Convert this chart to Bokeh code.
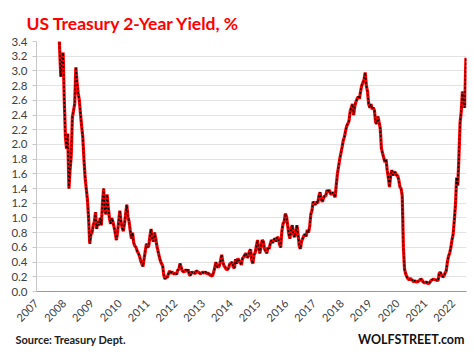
from bokeh.plotting import figure
from bokeh.models import FixedTicker, Range1d, NumeralTickFormatter
from bokeh.core.properties import value
from bokeh.embed import file_html
from bokeh.resources import INLINE
import math

# Semi-monthly readings of the US Treasury 2-year yield (%), 24 per year (1st, 16th of each month)
yield_2007 = [4.75, 4.85, 4.90, 4.75, 4.55, 4.60, 4.65, 4.70, 4.70, 4.85, 4.95, 4.95,
              4.90, 4.60, 4.35, 4.20, 3.95, 4.05, 3.95, 3.80, 3.30, 2.92, 3.15, 3.25]
yield_2008 = [2.60, 2.10, 1.94, 2.15, 1.40, 1.65, 1.85, 2.37, 2.46, 2.55, 3.05, 2.85,
              2.70, 2.60, 2.42, 2.25, 2.10, 1.80, 1.55, 1.40, 1.25, 1.00, 0.65, 0.78]
yield_2009 = [0.80, 0.90, 0.95, 1.08, 0.85, 0.95, 0.90, 1.00, 0.90, 1.20, 1.40, 1.10,
              1.05, 1.32, 1.15, 1.00, 0.92, 1.00, 0.95, 0.88, 0.80, 0.70, 0.80, 0.95]
yield_2010 = [1.10, 0.95, 0.87, 0.82, 0.92, 1.05, 1.18, 1.02, 0.95, 0.83, 0.72, 0.80,
              0.66, 0.62, 0.60, 0.55, 0.52, 0.48, 0.42, 0.38, 0.34, 0.45, 0.55, 0.65]
yield_2011 = [0.60, 0.62, 0.75, 0.85, 0.72, 0.68, 0.80, 0.72, 0.62, 0.55, 0.48, 0.42,
              0.38, 0.35, 0.22, 0.17, 0.20, 0.19, 0.24, 0.28, 0.24, 0.27, 0.25, 0.24]
yield_2012 = [0.25, 0.23, 0.29, 0.30, 0.38, 0.33, 0.28, 0.27, 0.27, 0.30, 0.27, 0.30,
              0.23, 0.22, 0.27, 0.25, 0.26, 0.24, 0.28, 0.27, 0.26, 0.25, 0.24, 0.26]
yield_2013 = [0.26, 0.25, 0.27, 0.24, 0.25, 0.24, 0.22, 0.22, 0.21, 0.26, 0.32, 0.40,
              0.34, 0.33, 0.35, 0.42, 0.50, 0.40, 0.35, 0.33, 0.30, 0.30, 0.32, 0.38]
yield_2014 = [0.38, 0.40, 0.33, 0.32, 0.44, 0.38, 0.45, 0.42, 0.40, 0.36, 0.45, 0.47,
              0.50, 0.52, 0.46, 0.48, 0.55, 0.57, 0.42, 0.38, 0.50, 0.53, 0.62, 0.70]
yield_2015 = [0.58, 0.52, 0.62, 0.70, 0.68, 0.58, 0.55, 0.52, 0.60, 0.58, 0.65, 0.70,
              0.66, 0.70, 0.72, 0.68, 0.74, 0.72, 0.64, 0.60, 0.82, 0.92, 0.95, 1.06]
yield_2016 = [1.02, 0.90, 0.78, 0.72, 0.86, 0.90, 0.78, 0.74, 0.80, 0.90, 0.78, 0.62,
              0.58, 0.68, 0.72, 0.76, 0.78, 0.75, 0.84, 0.80, 0.88, 1.05, 1.10, 1.22]
yield_2017 = [1.20, 1.18, 1.22, 1.20, 1.30, 1.35, 1.25, 1.22, 1.27, 1.30, 1.30, 1.38,
              1.35, 1.38, 1.33, 1.32, 1.35, 1.32, 1.28, 1.45, 1.60, 1.70, 1.80, 1.88]
yield_2018 = [1.96, 2.05, 2.10, 2.18, 2.25, 2.28, 2.32, 2.45, 2.50, 2.55, 2.40, 2.52,
              2.58, 2.62, 2.65, 2.62, 2.72, 2.80, 2.84, 2.88, 2.98, 2.80, 2.72, 2.55]
yield_2019 = [2.50, 2.55, 2.48, 2.50, 2.46, 2.30, 2.28, 2.38, 2.30, 2.22, 1.95, 1.88,
              1.82, 1.76, 1.80, 1.65, 1.55, 1.42, 1.58, 1.65, 1.58, 1.62, 1.62, 1.58]
yield_2020 = [1.58, 1.52, 1.42, 1.40, 1.30, 0.60, 0.30, 0.24, 0.20, 0.17, 0.16, 0.18,
              0.16, 0.15, 0.13, 0.15, 0.13, 0.13, 0.14, 0.15, 0.17, 0.16, 0.13, 0.12]
yield_2021 = [0.12, 0.13, 0.11, 0.11, 0.13, 0.15, 0.16, 0.17, 0.16, 0.16, 0.15, 0.15,
              0.25, 0.26, 0.22, 0.20, 0.21, 0.25, 0.28, 0.40, 0.48, 0.52, 0.60, 0.70]
yield_2022 = [0.78, 0.97, 1.18, 1.55, 1.44, 1.85, 2.30, 2.45, 2.72, 2.58, 2.50, 3.18]

year_series = [
    (2007, yield_2007), (2008, yield_2008), (2009, yield_2009), (2010, yield_2010),
    (2011, yield_2011), (2012, yield_2012), (2013, yield_2013), (2014, yield_2014),
    (2015, yield_2015), (2016, yield_2016), (2017, yield_2017), (2018, yield_2018),
    (2019, yield_2019), (2020, yield_2020), (2021, yield_2021), (2022, yield_2022),
]

x_tick_years = [2007, 2008, 2009, 2010, 2011, 2012, 2013, 2014,
                2015, 2016, 2017, 2018, 2019, 2020, 2021, 2022]
y_ticks = [0.0, 0.2, 0.4, 0.6, 0.8, 1.0, 1.2, 1.4, 1.6, 1.8,
           2.0, 2.2, 2.4, 2.6, 2.8, 3.0, 3.2, 3.4]

title_text = "US Treasury 2-Year Yield, %"
source_text = "Source: Treasury Dept."
brand_text = "WOLFSTREET.com"

dates = []
yields = []
for yr, vals in year_series:
    for k, val in enumerate(vals):
        dates.append(yr + k / 24.0)
        yields.append(val)

p = figure(width=474, height=330, output_backend="svg", toolbar_location=None,
           x_range=Range1d(2007.0, 2022.48), y_range=Range1d(0, 3.4),
           min_border_left=36, min_border_right=8, min_border_top=41, min_border_bottom=39)
p.outline_line_color = None
p.background_fill_color = "white"
p.border_fill_color = "white"

p.title.text = title_text
p.title.text_color = "#ff0000"
p.title.text_font = "Lato"
p.title.text_font_style = "bold"
p.title.text_font_size = "17.5px"
p.title.align = "left"
p.title.offset = -10
p.title.standoff = 16

p.line(dates, yields, line_color="#ff0000", line_width=3.2)
p.line(dates, yields, line_color="#000000", line_width=1.5, line_dash="2 2")

p.xgrid.grid_line_color = None
p.ygrid.grid_line_color = "#e3e3e3"
p.ygrid.grid_line_width = 1

p.xaxis.ticker = FixedTicker(ticks=x_tick_years)
p.xaxis.major_label_overrides = {y: str(y) for y in x_tick_years}
p.xaxis.major_label_orientation = math.pi / 4
p.xaxis.major_tick_line_color = None
p.xaxis.minor_tick_line_color = None
p.xaxis.axis_line_color = "#9a9a9a"
p.xaxis.axis_line_width = 1.2
p.xaxis.major_label_text_font = "Lato"
p.xaxis.major_label_text_font_size = "11px"
p.xaxis.major_label_text_color = "#404040"
p.xaxis.major_label_standoff = 4

p.yaxis.ticker = FixedTicker(ticks=y_ticks)
p.yaxis.formatter = NumeralTickFormatter(format="0.0")
p.yaxis.minor_tick_line_color = None
p.yaxis.axis_line_color = "#c8c8c8"
p.yaxis.major_tick_line_color = "#c8c8c8"
p.yaxis.major_tick_out = 4
p.yaxis.major_tick_in = 0
p.yaxis.major_label_text_font = "Lato"
p.yaxis.major_label_text_font_size = "11.5px"
p.yaxis.major_label_text_color = "#404040"
p.yaxis.major_label_standoff = 5

# footer strip holding the source note and the brand (separate root, so no frame alignment)
f = figure(width=474, height=24, output_backend="svg", toolbar_location=None,
           x_range=Range1d(0, 474), y_range=Range1d(0, 24),
           min_border=0, min_border_left=0, min_border_right=0,
           min_border_top=0, min_border_bottom=0,
           x_axis_type=None, y_axis_type=None)
f.outline_line_color = None
f.xgrid.visible = False
f.ygrid.visible = False
f.text(x=[15], y=[15], text=[source_text], text_font=value("Lato"),
       text_font_style="bold", text_font_size="11px", text_color="#202020",
       text_baseline="middle", text_align="left")
f.text(x=[464], y=[15], text=[brand_text], text_font=value("Lato"),
       text_font_style="bold", text_font_size="12.5px", text_color="#111111",
       text_baseline="middle", text_align="right")

open("out.html", "w").write(file_html([p, f], INLINE))
